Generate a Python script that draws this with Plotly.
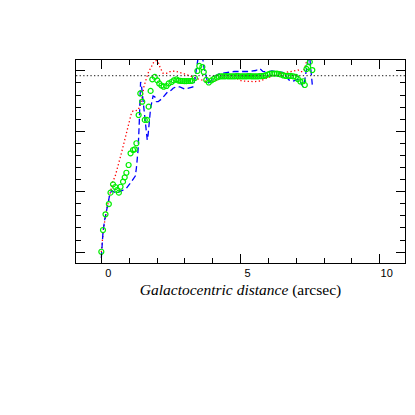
import plotly.graph_objects as go

# green circles
green_x = [0.00, 0.06, 0.15, 0.27, 0.33, 0.42, 0.50, 0.57, 0.63, 0.69, 0.78, 0.84, 0.90, 0.98,
           1.05, 1.14, 1.20, 1.26, 1.34, 1.40, 1.47, 1.56, 1.64, 1.70, 1.77, 1.83, 1.92, 2.01,
           2.08, 2.16, 2.24, 2.34, 2.42, 2.52, 2.60, 2.70, 2.77, 2.84, 2.91, 2.98, 3.05, 3.12,
           3.19, 3.26, 3.36, 3.45, 3.52, 3.63, 3.68, 3.77, 3.86, 3.96, 4.04, 4.15, 4.22, 4.29,
           4.36, 4.43, 4.50, 4.57, 4.64, 4.71, 4.78, 4.85, 4.92, 4.99, 5.06, 5.13, 5.20, 5.27,
           5.34, 5.41, 5.48, 5.55, 5.62, 5.69, 5.76, 5.83, 5.90, 5.98, 6.05, 6.13, 6.22, 6.31,
           6.38, 6.45, 6.54, 6.63, 6.72, 6.81, 6.90, 6.99, 7.06, 7.15, 7.25, 7.31, 7.37, 7.43,
           7.49, 7.58]
green_y = [-4.97, -3.17, -1.87, -1.02, -0.08, 0.61, 0.39, 0.14, -0.08, 0.41, 0.83, 1.19, 1.57, 2.21,
           3.18, 3.45, 3.51, 4.01, 6.35, 8.13, 7.45, 5.94, 5.94, 7.04, 8.34, 9.30, 9.50, 9.21,
           8.96, 8.79, 8.69, 8.75, 8.96, 9.08, 9.21, 9.29, 9.20, 9.18, 9.16, 9.15, 9.15, 9.16,
           9.16, 9.18, 9.41, 9.99, 10.41, 10.32, 9.91, 9.25, 9.04, 9.21, 9.33, 9.45, 9.52, 9.54,
           9.55, 9.55, 9.56, 9.55, 9.54, 9.54, 9.55, 9.56, 9.56, 9.55, 9.54, 9.55, 9.55, 9.56,
           9.56, 9.55, 9.55, 9.54, 9.55, 9.56, 9.57, 9.58, 9.62, 9.70, 9.76, 9.78, 9.78, 9.78,
           9.74, 9.70, 9.62, 9.58, 9.58, 9.58, 9.54, 9.50, 9.33, 9.12, 9.14, 8.83, 10.16, 10.32,
           10.74, 10.07]

# blue dashed
blue_x = [0.00, 0.06, 0.12, 0.24, 0.30, 0.37, 0.44, 0.54, 0.66, 0.78, 0.90, 1.02, 1.09, 1.16,
          1.22, 1.26, 1.32, 1.36, 1.39, 1.41, 1.44, 1.50, 1.56, 1.62, 1.65, 1.68, 1.72, 1.77,
          1.86, 1.92, 1.98, 2.04, 2.16, 2.28, 2.38, 2.52, 2.58, 2.70, 2.82, 3.00, 3.18, 3.29,
          3.36, 3.42, 3.47, 3.57, 3.65, 3.69, 3.78, 3.83, 3.96, 4.08, 4.26, 4.51, 4.79, 5.05,
          5.33, 5.55, 5.69, 5.80, 5.95, 6.13, 6.34, 6.52, 6.63, 6.74, 6.85, 6.99, 7.10, 7.19,
          7.25, 7.31, 7.37, 7.43, 7.49, 7.54, 7.58]
blue_y = [-5.49, -3.34, -2.34, -0.96, -0.27, 0.10, -0.02, -0.13, 0.00, 0.14, 0.28, 0.64, 0.84, 1.05,
          1.30, 1.96, 3.45, 5.52, 7.59, 9.08, 8.83, 7.59, 6.18, 5.02, 4.28, 4.69, 5.77, 6.93,
          7.92, 7.86, 7.45, 7.45, 7.67, 8.00, 8.25, 8.42, 8.56, 8.69, 8.67, 8.50, 8.58, 8.67,
          9.25, 10.16, 10.98, 11.23, 10.90, 10.24, 9.39, 8.97, 9.21, 9.58, 9.78, 9.87, 9.95, 9.95,
          9.95, 10.03, 10.20, 9.95, 9.91, 9.99, 9.95, 9.87, 9.58, 9.25, 9.12, 9.25, 9.33, 8.92,
          8.67, 9.25, 10.32, 10.98, 11.07, 9.91, 8.83]

# red dotted
red_x = [0.00, 0.08, 0.19, 0.30, 0.36, 0.42, 0.48, 0.60, 0.72, 0.84, 0.96, 1.02, 1.08, 1.14,
         1.20, 1.32, 1.40, 1.46, 1.53, 1.62, 1.70, 1.80, 1.89, 1.98, 2.06, 2.12, 2.22, 2.34,
         2.46, 2.64, 2.82, 3.00, 3.18, 3.36, 3.47, 3.60, 3.78, 3.96, 4.14, 4.26, 4.50, 4.73,
         4.91, 5.04, 5.27, 5.51, 5.69, 5.87, 6.05, 6.24, 6.47, 6.71, 6.89, 7.07, 7.17, 7.25,
         7.31, 7.37, 7.42]
red_y = [-4.99, -3.00, -1.51, -0.36, 0.14, 0.97, 1.13, 2.07, 3.18, 4.28, 5.38, 5.85, 6.49, 6.68,
         6.68, 6.76, 7.18, 7.73, 8.69, 9.39, 9.93, 10.35, 10.76, 10.86, 10.63, 10.22, 9.80, 9.80,
         9.93, 9.99, 9.88, 9.74, 9.58, 9.39, 9.33, 9.25, 9.12, 9.12, 9.21, 9.37, 9.44, 9.44,
         9.33, 9.16, 9.11, 9.11, 9.16, 9.33, 9.52, 9.66, 9.80, 9.93, 10.02, 10.07, 9.93, 9.93,
         10.24, 10.76, 11.23]

ref_level = 9.60
x_ticks = [0, 5, 10]

fig = go.Figure()
fig.add_scatter(x=red_x, y=red_y, mode='lines',
                line=dict(color='#ff0000', width=1.3, dash='1.3px,2.4px'))
fig.add_scatter(x=blue_x, y=blue_y, mode='lines',
                line=dict(color='#0000ff', width=1.3, dash='6px,3.5px'))
fig.add_scatter(x=green_x, y=green_y, mode='markers',
                marker=dict(symbol='circle-open', size=5, color='#00ee00',
                            line=dict(width=1.2, color='#00ee00')))
fig.add_hline(y=ref_level, line=dict(color='#444444', width=1.3, dash='1.3px,2.3px'))

# the page body adds an 8px offset, margins allow for it
fig.update_layout(
    width=415, height=415,
    margin=dict(l=68, r=18, t=52, b=160),
    paper_bgcolor='white', plot_bgcolor='white',
    showlegend=False,
    font=dict(family='Liberation Serif', color='black'),
)
fig.update_xaxes(
    range=[-0.91, 10.91], showgrid=False, zeroline=False,
    showline=True, linecolor='black', linewidth=1.2, mirror='allticks',
    ticks='inside', ticklen=9, tickcolor='black', tickwidth=1.2,
    tickvals=x_ticks, ticktext=[str(v) for v in x_ticks],
    tickfont=dict(family='Liberation Sans', size=11), ticklabelshift=7,
    minor=dict(dtick=1, ticks='inside', ticklen=4.5, tickcolor='black', tickwidth=1.2),
    title=dict(text='<i>Galactocentric distance</i> (arcsec)',
               font=dict(family='Liberation Serif', size=15.5), standoff=5),
)
fig.update_yaxes(
    range=[-5.9, 10.9], showgrid=False, zeroline=False,
    showline=True, linecolor='black', linewidth=1.2, mirror='allticks',
    ticks='inside', ticklen=9, tickcolor='black', tickwidth=1.2,
    dtick=5, tick0=0, showticklabels=False,
    minor=dict(dtick=1, ticks='inside', ticklen=4.5, tickcolor='black', tickwidth=1.2),
)

fig.write_html("out.html")
